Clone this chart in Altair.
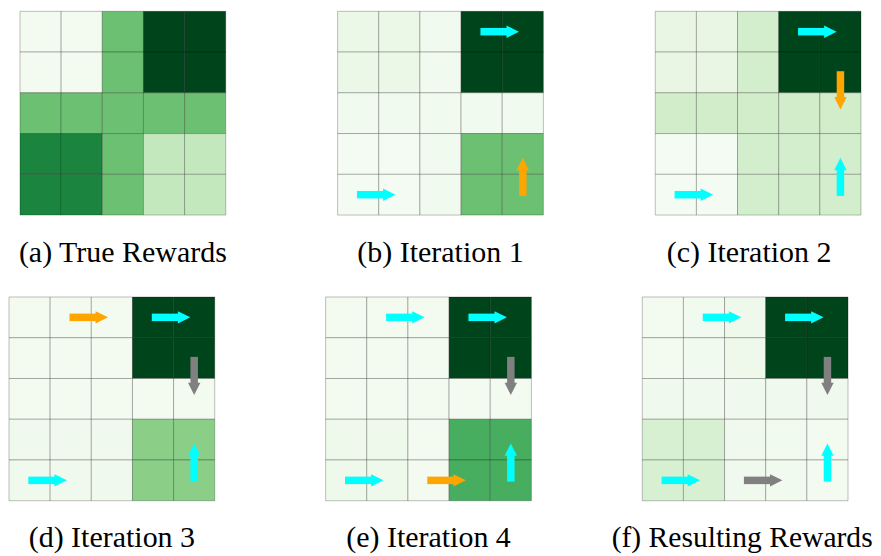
import altair as alt
import pandas as pd

# ---- data -------------------------------------------------------------
PANELS = ["a", "b", "c", "d", "e", "f"]
CAPTIONS = ["(a) True Rewards", "(b) Iteration 1", "(c) Iteration 2",
            "(d) Iteration 3", "(e) Iteration 4", "(f) Resulting Rewards"]

# normalised reward per cell (rows top->bottom, cols left->right)
REWARD_A = [[0.03, 0.03, 0.52, 1.00, 1.00],
            [0.03, 0.03, 0.52, 1.00, 1.00],
            [0.52, 0.52, 0.52, 0.52, 0.52],
            [0.78, 0.78, 0.52, 0.26, 0.26],
            [0.78, 0.78, 0.52, 0.26, 0.26]]
REWARD_B = [[0.08, 0.08, 0.04, 1.00, 1.00],
            [0.08, 0.08, 0.04, 1.00, 1.00],
            [0.04, 0.04, 0.04, 0.04, 0.04],
            [0.02, 0.02, 0.04, 0.52, 0.52],
            [0.02, 0.02, 0.04, 0.52, 0.52]]
REWARD_C = [[0.10, 0.10, 0.20, 1.00, 1.00],
            [0.10, 0.10, 0.20, 1.00, 1.00],
            [0.21, 0.21, 0.21, 0.21, 0.21],
            [0.02, 0.02, 0.20, 0.20, 0.20],
            [0.02, 0.02, 0.20, 0.20, 0.20]]
REWARD_D = [[0.03, 0.03, 0.03, 1.00, 1.00],
            [0.03, 0.03, 0.03, 1.00, 1.00],
            [0.03, 0.03, 0.03, 0.03, 0.03],
            [0.05, 0.05, 0.05, 0.44, 0.44],
            [0.05, 0.05, 0.05, 0.44, 0.44]]
REWARD_E = [[0.03, 0.03, 0.03, 1.00, 1.00],
            [0.03, 0.03, 0.03, 1.00, 1.00],
            [0.03, 0.03, 0.03, 0.03, 0.03],
            [0.06, 0.06, 0.03, 0.61, 0.61],
            [0.06, 0.06, 0.03, 0.61, 0.61]]
REWARD_F = [[0.03, 0.04, 0.06, 1.00, 1.00],
            [0.03, 0.04, 0.06, 1.00, 1.00],
            [0.05, 0.05, 0.05, 0.05, 0.05],
            [0.18, 0.18, 0.05, 0.04, 0.03],
            [0.18, 0.18, 0.05, 0.04, 0.03]]
REWARDS = [REWARD_A, REWARD_B, REWARD_C, REWARD_D, REWARD_E, REWARD_F]

# arrows: (from_row, from_col, to_row, to_col, kind)
ARROWS_A = []
ARROWS_B = [(0, 3, 0, 4, "cyan"), (4, 0, 4, 1, "cyan"), (4, 4, 3, 4, "orange")]
ARROWS_C = [(0, 3, 0, 4, "cyan"), (1, 4, 2, 4, "orange"),
            (4, 4, 3, 4, "cyan"), (4, 0, 4, 1, "cyan")]
ARROWS_D = [(0, 1, 0, 2, "orange"), (0, 3, 0, 4, "cyan"), (1, 4, 2, 4, "gray"),
            (4, 4, 3, 4, "cyan"), (4, 0, 4, 1, "cyan")]
ARROWS_E = [(0, 1, 0, 2, "cyan"), (0, 3, 0, 4, "cyan"), (1, 4, 2, 4, "gray"),
            (4, 4, 3, 4, "cyan"), (4, 0, 4, 1, "cyan"), (4, 2, 4, 3, "orange")]
ARROWS_F = [(0, 1, 0, 2, "cyan"), (0, 3, 0, 4, "cyan"), (1, 4, 2, 4, "gray"),
            (4, 4, 3, 4, "cyan"), (4, 0, 4, 1, "cyan"), (4, 2, 4, 3, "gray")]
ARROWS = [ARROWS_A, ARROWS_B, ARROWS_C, ARROWS_D, ARROWS_E, ARROWS_F]

ARROW_KINDS = ["cyan", "orange", "gray"]
ARROW_COLORS = ["#00ffff", "#ffa500", "#808080"]

# Greens colour ramp (ColorBrewer)
GREENS_STOPS = [0, 0.125, 0.25, 0.375, 0.5, 0.625, 0.75, 0.875, 1]
GREENS = ["#f7fcf5", "#e5f5e0", "#c7e9c0", "#a1d99b", "#74c476",
          "#41ab5d", "#238b45", "#006d2c", "#00441b"]

# ---- tables -------------------------------------------------------------
cells = pd.DataFrame([
    {"panel": p, "r": r, "c": c, "val": grid[r][c]}
    for p, grid in zip(PANELS, REWARDS) for r in range(5) for c in range(5)
])
arrows = pd.DataFrame([
    {"panel": p, "r0": a[0], "c0": a[1], "r1": a[2], "c1": a[3], "kind": a[4]}
    for p, lst in zip(PANELS, ARROWS) for a in lst
], columns=["panel", "r0", "c0", "r1", "c1", "kind"])

W, H = 206, 204
LEAD = 11  # extra left room of the first top panel (px)
ys = alt.Scale(domain=[0, 5], nice=False, zero=False, reverse=True)
fill_scale = alt.Scale(domain=GREENS_STOPS, range=GREENS, type="linear",
                       interpolate="rgb")


def panel(i, dx=0, lead=0, fsize=30):
    p = PANELS[i]
    lo = -5.0 * lead / W
    xs = alt.Scale(domain=[lo, 5], nice=False, zero=False)
    base_cells = alt.Chart(cells).transform_filter(alt.datum.panel == p)
    rect = base_cells.transform_calculate(
        c2="datum.c + 1", r2="datum.r + 1"
    ).mark_rect(stroke="black", strokeOpacity=0.25, strokeWidth=1).encode(
        x=alt.X("c:Q", scale=xs, axis=None),
        x2="c2:Q",
        y=alt.Y("r:Q", scale=ys, axis=None),
        y2="r2:Q",
        fill=alt.Fill("val:Q", scale=fill_scale, legend=None),
    )
    layers = [rect]
    if len(ARROWS[i]):
        base_arr = alt.Chart(arrows).transform_filter(
            alt.datum.panel == p
        ).transform_calculate(
            dx="datum.c1 - datum.c0", dy="datum.r1 - datum.r0"
        ).transform_calculate(
            xs0="datum.c0 + 0.5 - 0.03 * datum.dx",
            ys0="datum.r0 + 0.5 - 0.03 * datum.dy",
            xb="datum.c1 + 0.5 - 0.37 * datum.dx",
            yb="datum.r1 + 0.5 - 0.37 * datum.dy",
            xh="datum.c1 + 0.5 - 0.245 * datum.dx",
            yh="datum.r1 + 0.5 - 0.245 * datum.dy",
            ang="datum.dx > 0 ? 0 : (datum.dx < 0 ? 180 : (datum.dy > 0 ? 90 : 270))",
        )
        colr = alt.Color("kind:N", scale=alt.Scale(domain=ARROW_KINDS,
                                                   range=ARROW_COLORS),
                         legend=None)
        shaft = base_arr.mark_rule(strokeWidth=7.5, strokeCap="butt").encode(
            x=alt.X("xs0:Q", scale=xs, axis=None),
            x2="xb:Q",
            y=alt.Y("ys0:Q", scale=ys, axis=None),
            y2="yb:Q",
            color=colr,
        )
        head = base_arr.mark_point(
            shape="M-1,-1L1,0L-1,1Z", filled=True, opacity=1, size=155,
            strokeWidth=0,
        ).encode(
            x=alt.X("xh:Q", scale=xs, axis=None),
            y=alt.Y("yh:Q", scale=ys, axis=None),
            angle=alt.Angle("ang:Q", scale=None),
            color=colr,
        )
        layers += [shaft, head]
    title = alt.TitleParams(
        CAPTIONS[i], orient="bottom", anchor="middle", font="Liberation Serif",
        fontSize=fsize, fontWeight="normal", color="black",
        baseline="alphabetic", offset=46, dx=dx + lead / 2,
    )
    return alt.layer(*layers).properties(
        width=W + lead, height=H, title=title)


top = alt.hconcat(panel(0, lead=LEAD), panel(1), panel(2, dx=-9),
                  spacing=112, bounds="flush")
bottom = alt.hconcat(panel(3), panel(4), panel(5, dx=-3, fsize=29.6),
                     spacing=111, bounds="flush")

chart = alt.vconcat(top, bottom, spacing=28).properties(
    padding={"left": 0, "top": 2, "right": 0, "bottom": 0},
    background="white",
).configure_view(strokeWidth=0, stroke="transparent")

chart.save("out.html", embed_options={"renderer": "svg", "actions": False})
